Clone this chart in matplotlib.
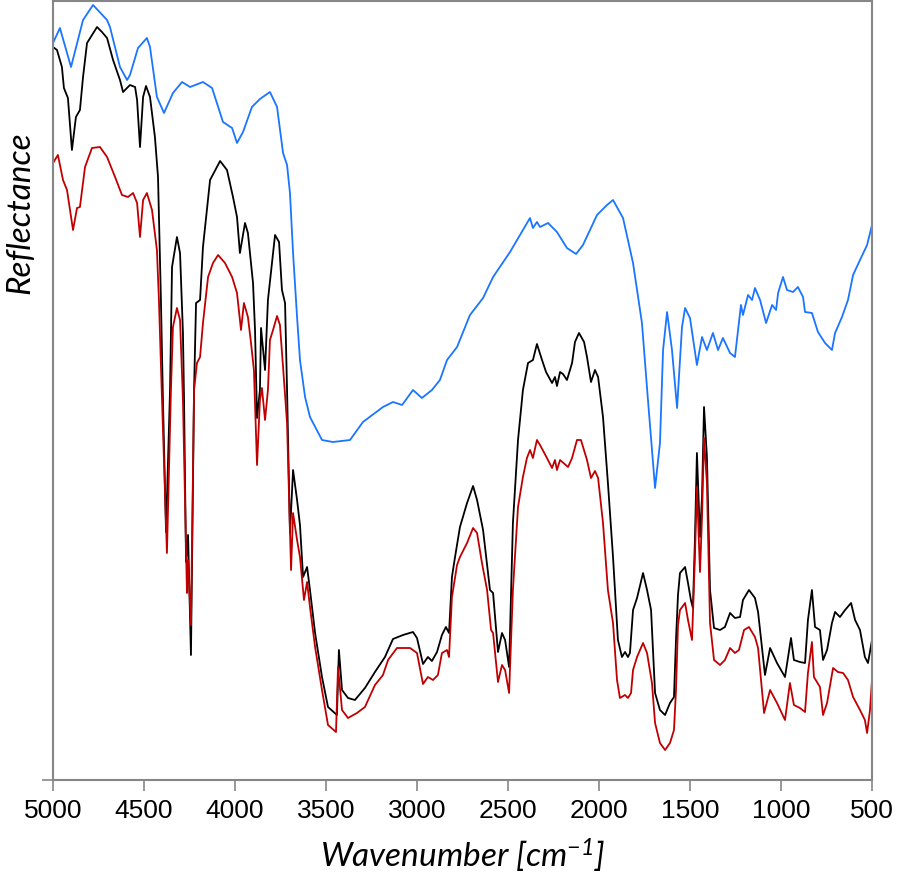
import matplotlib.pyplot as plt
import numpy as np

# Spectra (wavenumber in cm-1, reflectance in arbitrary units)
wn_blue = [5000, 4962, 4901, 4835, 4780, 4703, 4687, 4632, 4593, 4577, 4533, 4484, 4467, 4429,
           4390, 4341, 4291, 4247, 4176, 4126, 4066, 4016, 3989, 3956, 3907, 3863, 3808, 3769,
           3736, 3714, 3698, 3681, 3659, 3643, 3615, 3588, 3522, 3462, 3368, 3297, 3187, 3132,
           3082, 3022, 2973, 2918, 2874, 2835, 2780, 2709, 2637, 2582, 2489, 2418, 2379, 2363,
           2341, 2324, 2280, 2231, 2176, 2126, 2088, 2011, 1956, 1923, 1868, 1813, 1764, 1731,
           1692, 1665, 1648, 1626, 1599, 1571, 1544, 1527, 1500, 1462, 1434, 1407, 1374, 1346,
           1319, 1280, 1253, 1220, 1209, 1181, 1159, 1143, 1115, 1082, 1049, 1027, 1016, 989,
           967, 934, 907, 879, 868, 830, 797, 758, 720, 703, 665, 632, 604, 566, 527, 500]
r_blue = [0.737, 0.752, 0.713, 0.760, 0.775, 0.760, 0.753, 0.713, 0.700, 0.705, 0.732, 0.742, 0.733, 0.683,
          0.667, 0.687, 0.698, 0.693, 0.698, 0.692, 0.658, 0.652, 0.637, 0.648, 0.673, 0.681, 0.688, 0.673,
          0.627, 0.615, 0.587, 0.527, 0.463, 0.420, 0.383, 0.363, 0.340, 0.338, 0.340, 0.358, 0.373, 0.378,
          0.375, 0.390, 0.382, 0.390, 0.400, 0.420, 0.433, 0.465, 0.482, 0.503, 0.528, 0.550, 0.562, 0.552,
          0.558, 0.553, 0.557, 0.548, 0.532, 0.526, 0.535, 0.565, 0.575, 0.580, 0.562, 0.517, 0.457, 0.380,
          0.292, 0.337, 0.430, 0.468, 0.430, 0.372, 0.453, 0.472, 0.462, 0.415, 0.443, 0.430, 0.447, 0.430,
          0.442, 0.427, 0.423, 0.475, 0.465, 0.485, 0.480, 0.492, 0.480, 0.457, 0.475, 0.470, 0.487, 0.503,
          0.490, 0.488, 0.493, 0.483, 0.468, 0.467, 0.448, 0.437, 0.430, 0.447, 0.463, 0.480, 0.505, 0.520, 0.535, 0.555]

wn_black = [5000, 4978, 4951, 4940, 4918, 4896, 4874, 4852, 4835, 4813, 4758, 4731, 4703, 4670,
            4632, 4615, 4577, 4549, 4538, 4522, 4505, 4489, 4467, 4440, 4423, 4407, 4396, 4379,
            4357, 4346, 4319, 4302, 4286, 4280, 4269, 4258, 4242, 4225, 4214, 4192, 4176, 4137,
            4082, 4044, 4011, 3989, 3973, 3945, 3929, 3901, 3890, 3879, 3863, 3857, 3835, 3819,
            3797, 3780, 3758, 3742, 3725, 3714, 3698, 3681, 3659, 3643, 3626, 3604, 3588, 3560,
            3522, 3489, 3440, 3429, 3412, 3379, 3341, 3286, 3231, 3176, 3132, 3077, 3022, 3000,
            2967, 2940, 2918, 2890, 2863, 2841, 2824, 2808, 2791, 2764, 2725, 2692, 2670, 2637,
            2599, 2582, 2555, 2533, 2516, 2494, 2473, 2445, 2418, 2390, 2363, 2341, 2313, 2291,
            2258, 2242, 2231, 2214, 2198, 2176, 2148, 2132, 2110, 2082, 2066, 2044, 2022, 2005,
            1978, 1951, 1923, 1896, 1874, 1857, 1841, 1830, 1813, 1791, 1758, 1736, 1714, 1692,
            1665, 1637, 1610, 1588, 1577, 1566, 1555, 1527, 1511, 1495, 1484, 1473, 1462, 1445,
            1434, 1423, 1407, 1390, 1368, 1335, 1308, 1280, 1253, 1225, 1209, 1176, 1143, 1126,
            1088, 1060, 1022, 978, 945, 929, 896, 868, 852, 830, 813, 786, 769, 747, 720, 703,
            676, 648, 615, 593, 566, 539, 522, 500]
r_black = [0.733, 0.730, 0.713, 0.692, 0.682, 0.630, 0.663, 0.670, 0.703, 0.737, 0.753, 0.748, 0.742, 0.720,
           0.700, 0.688, 0.695, 0.693, 0.680, 0.633, 0.683, 0.694, 0.683, 0.643, 0.603, 0.480, 0.380, 0.248,
           0.390, 0.513, 0.543, 0.527, 0.447, 0.380, 0.218, 0.245, 0.125, 0.390, 0.477, 0.480, 0.533, 0.600,
           0.619, 0.610, 0.583, 0.563, 0.527, 0.557, 0.547, 0.497, 0.450, 0.362, 0.390, 0.452, 0.410, 0.480,
           0.517, 0.545, 0.538, 0.490, 0.477, 0.390, 0.247, 0.310, 0.280, 0.255, 0.203, 0.213, 0.190, 0.147,
           0.103, 0.073, 0.065, 0.130, 0.090, 0.082, 0.080, 0.092, 0.108, 0.123, 0.141, 0.145, 0.148, 0.142,
           0.116, 0.123, 0.119, 0.128, 0.145, 0.153, 0.147, 0.203, 0.223, 0.253, 0.277, 0.294, 0.280, 0.250,
           0.190, 0.187, 0.128, 0.147, 0.140, 0.113, 0.257, 0.340, 0.390, 0.417, 0.420, 0.436, 0.420, 0.408,
           0.397, 0.403, 0.394, 0.408, 0.406, 0.400, 0.417, 0.438, 0.447, 0.438, 0.423, 0.398, 0.410, 0.403,
           0.363, 0.297, 0.223, 0.140, 0.123, 0.128, 0.123, 0.127, 0.170, 0.182, 0.207, 0.190, 0.170, 0.087,
           0.070, 0.065, 0.077, 0.083, 0.140, 0.185, 0.207, 0.213, 0.197, 0.180, 0.172, 0.240, 0.327, 0.243,
           0.283, 0.373, 0.323, 0.190, 0.152, 0.150, 0.153, 0.167, 0.162, 0.163, 0.180, 0.190, 0.182, 0.168,
           0.105, 0.132, 0.117, 0.103, 0.142, 0.120, 0.118, 0.117, 0.160, 0.190, 0.153, 0.150, 0.120, 0.130, 0.157, 0.168,
           0.163, 0.170, 0.177, 0.160, 0.150, 0.123, 0.117, 0.140]

wn_red = [5000, 4973, 4945, 4923, 4890, 4868, 4852, 4824, 4786, 4742, 4703, 4659, 4621, 4588,
          4560, 4538, 4522, 4505, 4484, 4456, 4429, 4418, 4401, 4374, 4352, 4341, 4319, 4302,
          4286, 4264, 4258, 4242, 4225, 4209, 4192, 4176, 4148, 4121, 4093, 4055, 4016, 3989,
          3967, 3951, 3929, 3912, 3896, 3879, 3863, 3852, 3835, 3819, 3808, 3791, 3769, 3753,
          3736, 3714, 3692, 3681, 3659, 3643, 3621, 3604, 3588, 3560, 3522, 3489, 3445, 3434,
          3412, 3379, 3330, 3286, 3231, 3187, 3159, 3110, 3038, 3000, 2967, 2940, 2912, 2885,
          2863, 2835, 2824, 2808, 2780, 2764, 2725, 2692, 2670, 2643, 2615, 2593, 2582, 2555,
          2533, 2516, 2494, 2473, 2445, 2418, 2396, 2379, 2363, 2341, 2324, 2286, 2258, 2242,
          2231, 2214, 2170, 2148, 2121, 2099, 2066, 2044, 2022, 2005, 1978, 1951, 1923, 1901,
          1885, 1857, 1841, 1824, 1813, 1791, 1758, 1736, 1709, 1692, 1665, 1637, 1610, 1588,
          1577, 1566, 1555, 1527, 1511, 1489, 1473, 1462, 1445, 1434, 1423, 1407, 1390, 1368,
          1335, 1308, 1280, 1253, 1231, 1203, 1176, 1143, 1126, 1093, 1060, 1022, 978, 951,
          929, 896, 868, 852, 830, 819, 786, 769, 747, 714, 687, 659, 632, 604, 566, 539,
          527, 511, 500]
r_red = [0.617, 0.625, 0.600, 0.590, 0.550, 0.572, 0.573, 0.613, 0.632, 0.633, 0.623, 0.603, 0.585, 0.583,
         0.587, 0.577, 0.543, 0.580, 0.587, 0.570, 0.530, 0.480, 0.380, 0.227, 0.390, 0.453, 0.472, 0.460,
         0.380, 0.187, 0.220, 0.155, 0.390, 0.417, 0.423, 0.457, 0.503, 0.517, 0.525, 0.517, 0.503, 0.487,
         0.450, 0.477, 0.463, 0.437, 0.410, 0.315, 0.380, 0.392, 0.360, 0.390, 0.440, 0.450, 0.464, 0.455,
         0.413, 0.357, 0.210, 0.267, 0.240, 0.223, 0.180, 0.198, 0.173, 0.133, 0.090, 0.055, 0.048, 0.113,
         0.070, 0.062, 0.067, 0.073, 0.095, 0.105, 0.120, 0.132, 0.132, 0.127, 0.096, 0.103, 0.100, 0.105,
         0.127, 0.130, 0.123, 0.183, 0.215, 0.223, 0.237, 0.252, 0.247, 0.217, 0.190, 0.150, 0.147, 0.098,
         0.115, 0.110, 0.087, 0.190, 0.273, 0.303, 0.322, 0.330, 0.322, 0.340, 0.335, 0.322, 0.312, 0.320,
         0.310, 0.320, 0.313, 0.322, 0.340, 0.340, 0.320, 0.302, 0.309, 0.302, 0.257, 0.190, 0.157, 0.100,
         0.082, 0.085, 0.082, 0.087, 0.110, 0.123, 0.137, 0.127, 0.097, 0.057, 0.037, 0.030, 0.037, 0.050,
         0.090, 0.155, 0.170, 0.177, 0.160, 0.140, 0.223, 0.293, 0.208, 0.263, 0.342, 0.297, 0.157, 0.120,
         0.115, 0.120, 0.132, 0.127, 0.130, 0.150, 0.153, 0.143, 0.132, 0.067, 0.090, 0.077, 0.060, 0.097,
         0.075, 0.072, 0.068, 0.107, 0.138, 0.103, 0.093, 0.065, 0.077, 0.112, 0.108, 0.107, 0.100, 0.083, 0.070, 0.060,
         0.047, 0.070, 0.100]

xticks = [5000, 4500, 4000, 3500, 3000, 2500, 2000, 1500, 1000, 500]

# superscript in the axis label drawn with the same italic font
plt.rcParams['mathtext.fontset'] = 'custom'
plt.rcParams['mathtext.rm'] = 'Lato:italic'
plt.rcParams['mathtext.it'] = 'Lato:italic'

fig = plt.figure(figsize=(8.98, 8.82), dpi=100)
ax = fig.add_axes([53 / 898, 1 - 780 / 882, 819 / 898, 779 / 882])

ax.plot(wn_blue, r_blue, color='#1a75ff', lw=1.3)
ax.plot(wn_black, r_black, color='black', lw=1.3)
ax.plot(wn_red, r_red, color='#c00000', lw=1.3)

ax.set_xlim(5000, 500)
ax.set_ylim(0, 0.779)

# frame and ticks
for s in ax.spines.values():
    s.set_color('#868686')
    s.set_linewidth(1.5)
ax.set_xticks(xticks)
ax.set_xticklabels([str(t) for t in xticks], family=['Liberation Sans', 'DejaVu Sans'], fontsize=19)
ax.set_yticks([0])
ax.set_yticklabels([''])
ax.tick_params(axis='both', direction='out', length=8, width=1.2, color='#868686', pad=6)

ax.set_xlabel('Wavenumber [cm$^{\\mathregular{-1}}$]', fontsize=24, style='italic',
              family=['Lato', 'DejaVu Sans'], labelpad=10)
ax.set_ylabel('Reflectance', fontsize=24, style='italic', family=['Lato', 'DejaVu Sans'])
ax.yaxis.set_label_coords(-0.021, 0.728)

fig.savefig('out.png', dpi=100)
